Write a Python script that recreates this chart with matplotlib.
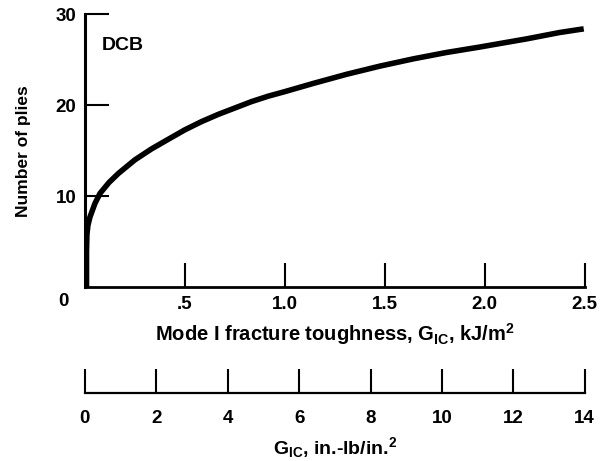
import matplotlib
matplotlib.use('Agg')
import matplotlib.pyplot as plt

# curve: G_IC (kJ/m^2) vs number of plies
toughness = [0.008, 0.008, 0.010, 0.015, 0.025, 0.05, 0.075, 0.12, 0.167, 0.25,
             0.333, 0.42, 0.5, 0.583, 0.667, 0.75, 0.833, 0.917, 1.0, 1.142,
             1.308, 1.475, 1.642, 1.808, 1.975, 2.04, 2.21, 2.375, 2.495]
plies = [0.0, 4.0, 5.8, 6.8, 7.7, 9.2, 10.3, 11.5, 12.5, 14.0,
         15.2, 16.3, 17.3, 18.2, 19.0, 19.7, 20.4, 21.0, 21.5, 22.4,
         23.4, 24.3, 25.1, 25.8, 26.4, 26.65, 27.3, 28.0, 28.4]

si_ticks = [0.5, 1.0, 1.5, 2.0, 2.5]
si_labels = ['.5', '1.0', '1.5', '2.0', '2.5']
us_ticks = [0, 2, 4, 6, 8, 10, 12, 14]
y_ticks = [10, 20, 30]

plt.rcParams['font.family'] = ['Liberation Sans', 'DejaVu Sans']
plt.rcParams['font.weight'] = 'bold'
plt.rcParams['mathtext.default'] = 'regular'

fig = plt.figure(figsize=(6.11, 4.61), dpi=100)
ax = fig.add_axes([0.139, 0.377, 0.818, 0.592])

ax.plot(toughness, plies, color='black', linewidth=4.0, solid_capstyle='butt',
        solid_joinstyle='round')
ax.set_xlim(0, 2.5)
ax.set_ylim(0, 30)

for side in ['top', 'right']:
    ax.spines[side].set_visible(False)
ax.spines['left'].set_linewidth(2.2)
ax.spines['bottom'].set_linewidth(2.0)

ax.set_xticks(si_ticks)
ax.set_xticklabels(si_labels)
ax.set_yticks(y_ticks)
ax.tick_params(axis='both', direction='in', length=17, width=1.5,
               labelsize=13.5, pad=6)
ax.text(-0.11, -0.6, '0', fontsize=13.5, fontweight='bold', ha='center', va='top')
ax.text(0.085, 26.6, 'DCB', fontsize=14, fontweight='bold', ha='left', va='center')

ax.set_ylabel('Number of plies', fontsize=12.5, fontweight='bold', labelpad=18)
ax.set_xlabel('Mode I fracture toughness, G$_{IC}$, kJ/m$^2$',
              fontsize=14.5, fontweight='bold', labelpad=6)

# second scale in in.-lb/in.^2 under the first one
ax2 = fig.add_axes([0.139, 0.1475, 0.818, 0.0001])
ax2.set_xlim(0, 14)
ax2.set_ylim(0, 1)
ax2.set_yticks([])
for side in ['top', 'right', 'left']:
    ax2.spines[side].set_visible(False)
ax2.spines['bottom'].set_linewidth(1.6)
ax2.set_xticks(us_ticks)
ax2.tick_params(axis='x', direction='in', length=17, width=1.5, labelsize=13.5, pad=12)
ax2.set_xlabel('G$_{IC}$, in.-lb/in.$^2$', fontsize=14, fontweight='bold', labelpad=6)

fig.savefig('out.png', dpi=100)
